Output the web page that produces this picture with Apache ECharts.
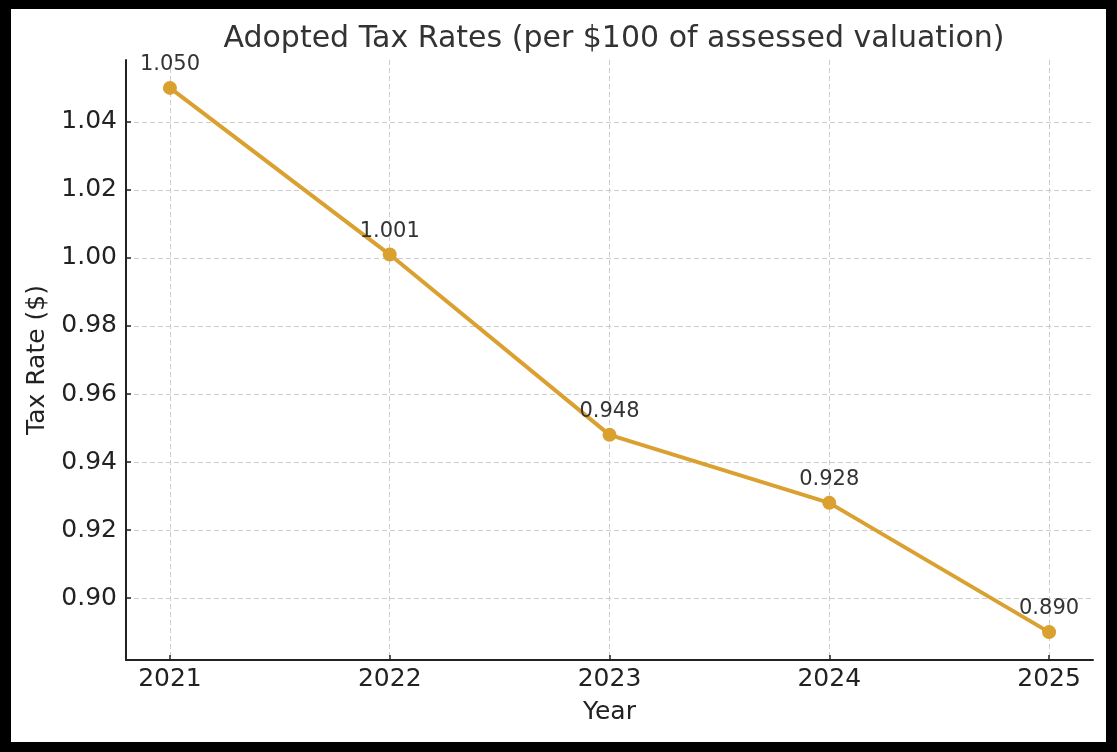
<!DOCTYPE html>
<html>
<head>
<meta charset="utf-8">
<script src="https://cdn.jsdelivr.net/npm/echarts@6/dist/echarts.min.js"></script>
<style>
html,body{margin:0;padding:0;background:#000;width:1117px;height:752px;overflow:hidden;}
#frame{position:absolute;left:11px;top:9px;width:1095px;height:733px;background:#fff;}
#chart{width:1095px;height:733px;}
</style>
</head>
<body>
<div id="frame"><div id="chart"></div></div>
<script>
const years = [2021, 2022, 2023, 2024, 2025];
const rates = [1.050, 1.001, 0.948, 0.928, 0.890];
const yTicks = [0.90, 0.92, 0.94, 0.96, 0.98, 1.00, 1.02, 1.04];

const chart = echarts.init(document.getElementById('chart'), null, {renderer: 'canvas'});
const font = 'DejaVu Sans';
chart.setOption({
  animation: false,
  title: {
    text: 'Adopted Tax Rates (per $100 of assessed valuation)',
    left: 598, top: 10, textAlign: 'center',
    textStyle: {fontFamily: font, fontSize: 30, fontWeight: 'normal', color: '#333'}
  },
  grid: {left: 115, top: 51, right: 13, bottom: 82, outerBoundsMode: 'none', containLabel: false},
  xAxis: {
    type: 'value', min: 2020.8, max: 2025.2,
    name: 'Year', nameLocation: 'middle', nameGap: 40,
    nameTextStyle: {fontFamily: font, fontSize: 25, color: '#222'},
    axisLine: {show: true, onZero: false, lineStyle: {color: '#222', width: 2}},
    axisTick: {show: true, inside: true, length: 5, customValues: years, lineStyle: {color: '#222', width: 1.5}},
    axisLabel: {customValues: years, fontFamily: font, fontSize: 25, color: '#222', margin: 7, formatter: v => String(v)},
    splitLine: {show: true, lineStyle: {color: '#ccc', type: [5, 3], width: 1}}
  },
  yAxis: {
    type: 'value', min: 0.8818, max: 1.0582,
    name: 'Tax Rate ($)', nameLocation: 'middle', nameGap: 76, nameRotate: 90,
    nameTextStyle: {fontFamily: font, fontSize: 25, color: '#222'},
    axisLine: {show: true, onZero: false, lineStyle: {color: '#222', width: 2}},
    axisTick: {show: true, inside: true, length: 5, customValues: yTicks, lineStyle: {color: '#222', width: 1.5}},
    axisLabel: {customValues: yTicks, fontFamily: font, fontSize: 25, color: '#222', margin: 9, formatter: v => v.toFixed(2)},
    splitLine: {show: true, lineStyle: {color: '#ccc', type: [5, 3], width: 1}}
  },
  series: [{
    type: 'line',
    data: years.map((y, i) => [y, rates[i]]),
    symbol: 'circle', symbolSize: 14,
    lineStyle: {color: '#DAA030', width: 4},
    itemStyle: {color: '#DAA030'},
    label: {show: true, position: 'top', distance: 6, fontFamily: font, fontSize: 21, color: '#333',
      formatter: p => p.value[1].toFixed(3)}
  }]
});
</script>
</body>
</html>
